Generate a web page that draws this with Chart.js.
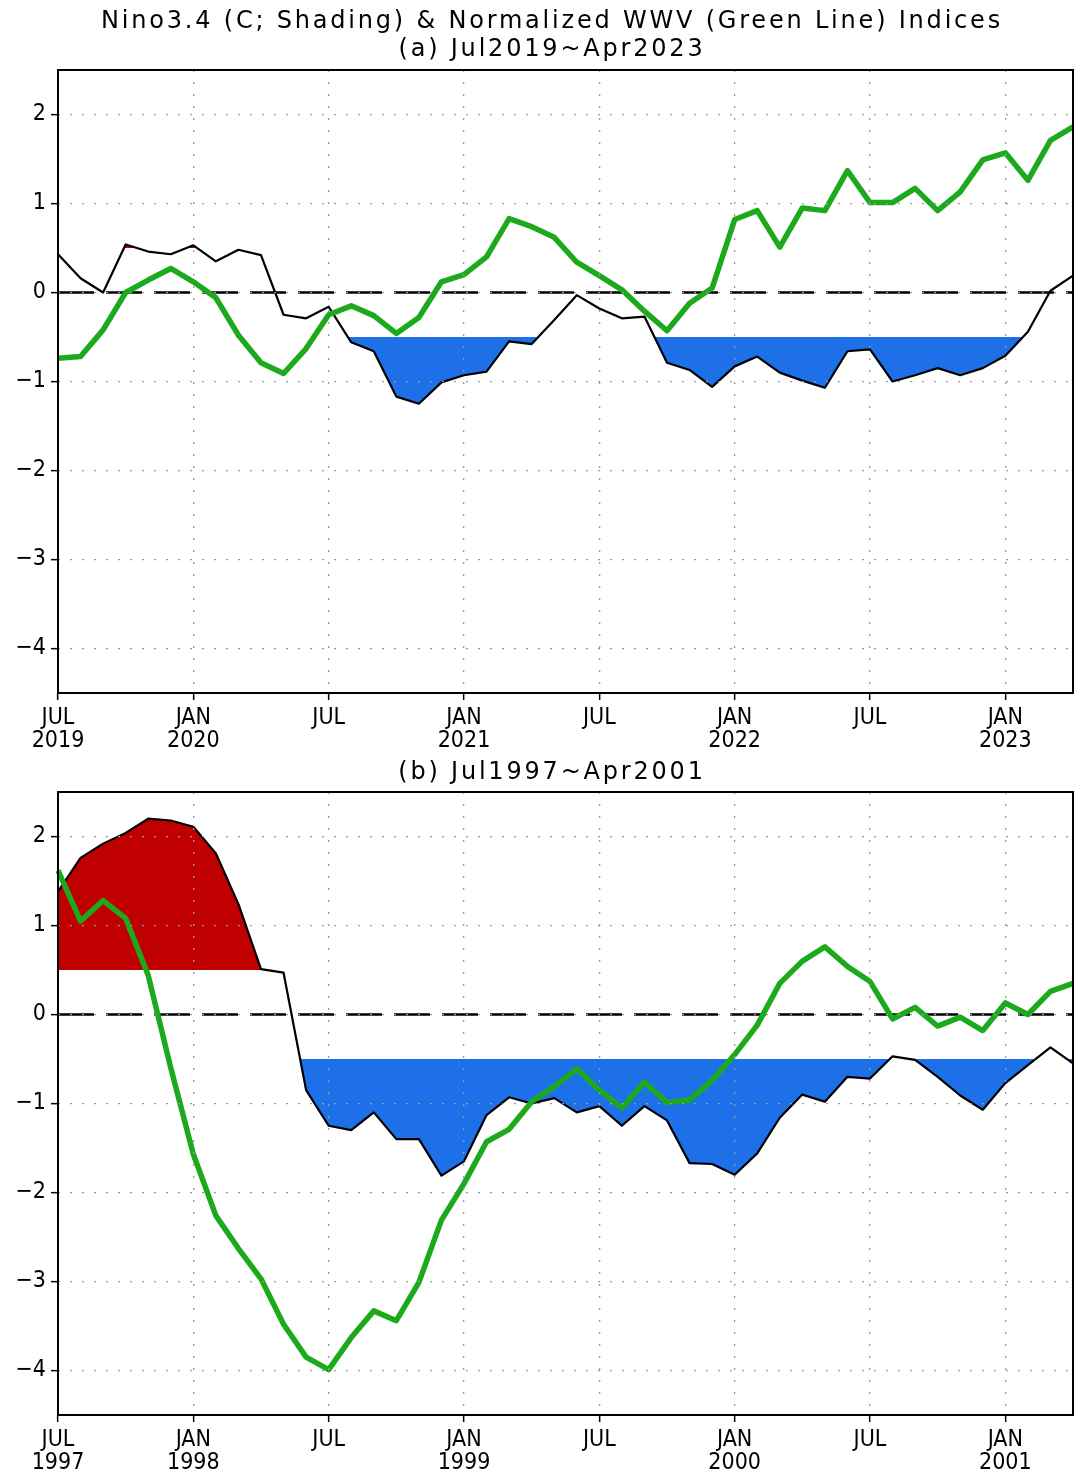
<!DOCTYPE html>
<html>
<head>
<meta charset="utf-8">
<script src="https://cdn.jsdelivr.net/npm/chart.js@4.4.0/dist/chart.umd.min.js"></script>
<style>
  html, body { margin: 0; padding: 0; background: #fff; }
  body { width: 1080px; height: 1472px; position: relative; overflow: hidden; }
  canvas { position: absolute; left: 0; }
  .title {
    position: absolute; left: 552px; transform: translateX(-50%);
    white-space: nowrap; text-align: center; color: #000;
    font-family: 'DejaVu Sans', sans-serif; font-size: 24px; line-height: 28px; letter-spacing: 2.8px;
  }
</style>
</head>
<body>
<canvas id="chartA" width="1080" height="752" style="top:0"></canvas>
<canvas id="chartB" width="1080" height="720" style="top:752px"></canvas>
<div class="title" style="top:6px">Nino3.4 (C; Shading) &amp; Normalized WWV (Green Line) Indices<br>(a) Jul2019~Apr2023</div>
<div class="title" style="top:757px">(b) Jul1997~Apr2001</div>
<script>
// months on the x axis
const monthsA = [
  '2019-07', '2019-08', '2019-09', '2019-10', '2019-11', '2019-12',
  '2020-01', '2020-02', '2020-03', '2020-04', '2020-05', '2020-06',
  '2020-07', '2020-08', '2020-09', '2020-10', '2020-11', '2020-12',
  '2021-01', '2021-02', '2021-03', '2021-04', '2021-05', '2021-06',
  '2021-07', '2021-08', '2021-09', '2021-10', '2021-11', '2021-12',
  '2022-01', '2022-02', '2022-03', '2022-04', '2022-05', '2022-06',
  '2022-07', '2022-08', '2022-09', '2022-10', '2022-11', '2022-12',
  '2023-01', '2023-02', '2023-03', '2023-04'
];
const monthsB = [
  '1997-07', '1997-08', '1997-09', '1997-10', '1997-11', '1997-12',
  '1998-01', '1998-02', '1998-03', '1998-04', '1998-05', '1998-06',
  '1998-07', '1998-08', '1998-09', '1998-10', '1998-11', '1998-12',
  '1999-01', '1999-02', '1999-03', '1999-04', '1999-05', '1999-06',
  '1999-07', '1999-08', '1999-09', '1999-10', '1999-11', '1999-12',
  '2000-01', '2000-02', '2000-03', '2000-04', '2000-05', '2000-06',
  '2000-07', '2000-08', '2000-09', '2000-10', '2000-11', '2000-12',
  '2001-01', '2001-02', '2001-03', '2001-04'
];

// Nino3.4 (C) and normalized WWV
const ninoA = [0.43, 0.16, 0.0, 0.54, 0.46, 0.43, 0.53, 0.35, 0.48, 0.42,
  -0.25, -0.29, -0.16, -0.56, -0.66, -1.17, -1.25, -1.01, -0.93, -0.89,
  -0.55, -0.58, -0.31, -0.03, -0.18, -0.29, -0.27, -0.79, -0.87, -1.06,
  -0.83, -0.72, -0.90, -0.99, -1.07, -0.66, -0.64, -1.0, -0.93, -0.85,
  -0.93, -0.85, -0.71, -0.44, 0.02, 0.19];
const wwvA = [-0.74, -0.72, -0.42, 0.0, 0.14, 0.27, 0.12, -0.06, -0.48, -0.79,
  -0.91, -0.63, -0.25, -0.15, -0.26, -0.46, -0.28, 0.12, 0.2, 0.40,
  0.83, 0.74, 0.62, 0.34, 0.19, 0.03, -0.21, -0.43, -0.12, 0.05,
  0.82, 0.92, 0.51, 0.95, 0.92, 1.37, 1.01, 1.01, 1.17, 0.92,
  1.13, 1.49, 1.57, 1.26, 1.71, 1.86];
const ninoB = [1.38, 1.76, 1.92, 2.04, 2.20, 2.18, 2.11, 1.81, 1.24, 0.51,
  0.47, -0.85, -1.25, -1.30, -1.10, -1.40, -1.40, -1.81, -1.65, -1.13,
  -0.93, -1.0, -0.94, -1.10, -1.03, -1.25, -1.03, -1.19, -1.67, -1.68,
  -1.80, -1.56, -1.16, -0.90, -0.98, -0.70, -0.72, -0.47, -0.51, -0.70,
  -0.91, -1.07, -0.77, -0.57, -0.37, -0.55];
const wwvB = [1.62, 1.05, 1.28, 1.08, 0.44, -0.60, -1.57, -2.26, -2.63, -2.97,
  -3.48, -3.85, -3.99, -3.63, -3.33, -3.44, -3.01, -2.31, -1.90, -1.43,
  -1.29, -0.98, -0.81, -0.61, -0.85, -1.05, -0.76, -0.99, -0.96, -0.74,
  -0.45, -0.12, 0.35, 0.60, 0.76, 0.54, 0.37, -0.05, 0.08, -0.13,
  -0.03, -0.18, 0.13, 0.0, 0.26, 0.35];

// labelled ticks
const tickMonthsA = ['2019-07', '2020-01', '2020-07', '2021-01', '2021-07', '2022-01', '2022-07', '2023-01'];
const tickTextA = [['JUL', '2019'], ['JAN', '2020'], ['JUL'], ['JAN', '2021'], ['JUL'], ['JAN', '2022'], ['JUL'], ['JAN', '2023']];
const tickMonthsB = ['1997-07', '1998-01', '1998-07', '1999-01', '1999-07', '2000-01', '2000-07', '2001-01'];
const tickTextB = [['JUL', '1997'], ['JAN', '1998'], ['JUL'], ['JAN', '1999'], ['JUL'], ['JAN', '2000'], ['JUL'], ['JAN', '2001']];
const yTickValues = [-4, -3, -2, -1, 0, 1, 2];

const GREEN = '#1caa1c';
const BLUE = '#1e70e8';
const RED = '#c00000';
const GRID = '#9a9a9a';
const TICK_FONT = "'DejaVu Sans Condensed', 'DejaVu Sans', sans-serif";

// dashed zero line under the data, box around the plot on top
const framePlugin = {
  id: 'frame',
  beforeDatasetsDraw(chart) {
    const { ctx, chartArea: a, scales: { y } } = chart;
    const y0 = y.getPixelForValue(0);
    ctx.save();
    ctx.strokeStyle = '#000';
    ctx.lineWidth = 2.5;
    ctx.setLineDash([36, 12]);
    ctx.beginPath();
    ctx.moveTo(a.left, y0);
    ctx.lineTo(a.right, y0);
    ctx.stroke();
    ctx.restore();
  },
  afterDraw(chart) {
    const { ctx, chartArea: a } = chart;
    ctx.save();
    ctx.strokeStyle = '#000';
    ctx.lineWidth = 2;
    ctx.strokeRect(a.left, a.top, a.right - a.left, a.bottom - a.top);
    ctx.restore();
  }
};

function makeChart(id, months, nino, wwv, tickMonths, tickText, padTop, axisHeight) {
  const labelMap = {};
  tickMonths.forEach((m, i) => { labelMap[m] = tickText[i]; });

  return new Chart(document.getElementById(id), {
    type: 'line',
    data: {
      labels: months,
      datasets: [
        { label: 'WWV', data: wwv, borderColor: GREEN, borderWidth: 5.5, pointRadius: 0, fill: false },
        { label: 'Nino3.4', data: nino, borderColor: '#000', borderWidth: 2.2, pointRadius: 0, fill: false },
        { label: 'warm', data: nino, borderColor: 'transparent', borderWidth: 0, pointRadius: 0,
          fill: { target: { value: 0.5 }, above: RED, below: 'rgba(0,0,0,0)' } },
        { label: 'cold', data: nino, borderColor: 'transparent', borderWidth: 0, pointRadius: 0,
          fill: { target: { value: -0.5 }, above: 'rgba(0,0,0,0)', below: BLUE } }
      ]
    },
    options: {
      responsive: false,
      animation: false,
      devicePixelRatio: 1,
      layout: { padding: { top: padTop, right: 7, left: 0, bottom: 0 } },
      elements: { line: { tension: 0, borderJoinStyle: 'round' } },
      plugins: { legend: { display: false }, tooltip: { enabled: false }, title: { display: false } },
      scales: {
        x: {
          type: 'category',
          offset: false,
          grid: { z: 1, lineWidth: 1.3, color: GRID, tickColor: '#000', tickLength: 7, tickWidth: 1.5 },
          border: { display: false, dash: [2, 10] },
          ticks: {
            autoSkip: false, maxRotation: 0, minRotation: 0, padding: 7, color: '#000',
            font: { family: TICK_FONT, size: 23, lineHeight: 1.0 },
            callback: (v) => labelMap[months[v]] || ''
          },
          afterBuildTicks: (s) => { s.ticks = tickMonths.map((m) => ({ value: months.indexOf(m) })); },
          afterFit: (s) => { s.height = axisHeight; }
        },
        y: {
          min: -4.5,
          max: 2.5,
          grid: { z: 1, lineWidth: 1.3, color: GRID, tickColor: '#000', tickLength: 7, tickWidth: 1.5 },
          border: { display: false, dash: [2, 10] },
          ticks: {
            padding: 5, color: '#000',
            font: { family: TICK_FONT, size: 23 },
            callback: (v) => v < 0 ? '\u2212' + Math.abs(v) : String(v)
          },
          afterBuildTicks: (s) => { s.ticks = yTickValues.map((v) => ({ value: v })); },
          afterFit: (s) => { s.width = 58; }
        }
      }
    },
    plugins: [framePlugin]
  });
}

makeChart('chartA', monthsA, ninoA, wwvA, tickMonthsA, tickTextA, 70, 59);
makeChart('chartB', monthsB, ninoB, wwvB, tickMonthsB, tickTextB, 40, 57);
</script>
</body>
</html>
